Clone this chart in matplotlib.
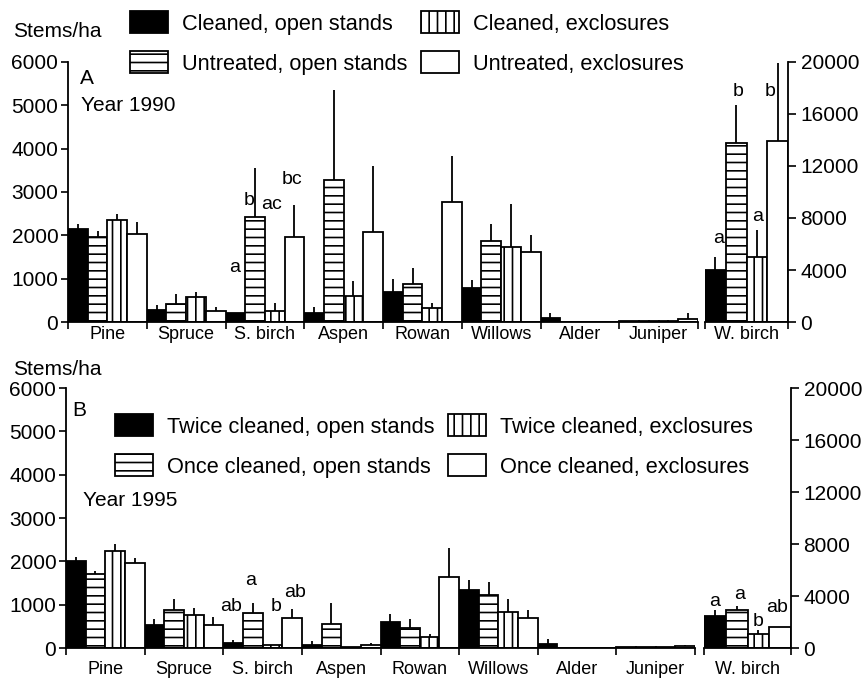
import numpy as np
import matplotlib
matplotlib.use("Agg")
import matplotlib.pyplot as plt
from matplotlib.patches import Patch

plt.rcParams['font.family'] = ['Liberation Sans', 'DejaVu Sans']
plt.rcParams['hatch.linewidth'] = 1.2
plt.rcParams['axes.linewidth'] = 1.3

species = ["Pine", "Spruce", "S. birch", "Aspen", "Rowan", "Willows", "Alder", "Juniper"]
wb_name = "W. birch"

# Panel A, 1990 (stems/ha); errors = upper error bar length
cleaned_open_90 = [2150, 270, 200, 210, 700, 780, 100, 25]
cleaned_open_90_err = [100, 130, 0, 140, 300, 200, 100, 0]
untreated_open_90 = [1950, 420, 2420, 3280, 870, 1870, 10, 30]
untreated_open_90_err = [150, 230, 1130, 2070, 380, 380, 0, 10]
cleaned_excl_90 = [2350, 570, 250, 600, 320, 1720, 5, 30]
cleaned_excl_90_err = [150, 130, 180, 350, 130, 1010, 0, 10]
untreated_excl_90 = [2030, 250, 1950, 2080, 2780, 1620, 5, 80]
untreated_excl_90_err = [270, 100, 750, 1520, 1040, 380, 0, 130]
wbirch_90 = [4000, 13800, 5000, 13900]
wbirch_90_err = [1000, 2900, 2100, 6000]

# Panel B, 1995
twice_open_95 = [2000, 520, 110, 80, 600, 1330, 100, 20]
twice_open_95_err = [100, 150, 80, 80, 190, 240, 100, 0]
once_open_95 = [1700, 880, 800, 560, 460, 1220, 0, 20]
once_open_95_err = [80, 250, 250, 470, 210, 300, 0, 0]
twice_excl_95 = [2250, 760, 60, 20, 250, 820, 0, 15]
twice_excl_95_err = [150, 170, 0, 0, 70, 310, 0, 0]
once_excl_95 = [1960, 540, 690, 80, 1650, 700, 0, 40]
once_excl_95_err = [120, 180, 210, 40, 650, 180, 0, 40]
wbirch_95 = [2500, 2900, 1100, 1600]
wbirch_95_err = [400, 300, 280, 0]

legend_90 = ["Cleaned, open stands", "Untreated, open stands",
             "Cleaned, exclosures", "Untreated, exclosures"]
legend_95 = ["Twice cleaned, open stands", "Once cleaned, open stands",
             "Twice cleaned, exclosures", "Once cleaned, exclosures"]

# significance letters: (text, x, y) in data coords
letters_90 = [("a", 2.12, 1250), ("b", 2.30, 2800), ("ac", 2.59, 2700), ("bc", 2.84, 3280)]
wb_letters_90 = [("a", 0.16, 6400), ("b", 0.40, 17700), ("a", 0.63, 8150), ("b", 0.78, 17700)]
letters_95 = [("ab", 2.10, 950), ("a", 2.35, 1550), ("b", 2.67, 950), ("ab", 2.91, 1270)]
wb_letters_95 = [("a", 0.12, 3550), ("a", 0.41, 4080), ("b", 0.62, 2000), ("ab", 0.84, 3080)]

styles = [dict(facecolor='black', edgecolor='black'),
          dict(facecolor='white', edgecolor='black', hatch='--'),
          dict(facecolor='white', edgecolor='black', hatch='||'),
          dict(facecolor='white', edgecolor='black')]

W, H = 863, 679
fig = plt.figure(figsize=(W / 100, H / 100), dpi=100)


def box(x0, x1, ybot, ytop):
    return [x0 / W, 1 - ybot / H, (x1 - x0) / W, (ybot - ytop) / H]


def draw_panel(main_box, side_box, vals, errs, wb_vals, wb_errs, letters, wb_letters, lab_pad):
    ax = fig.add_axes(main_box)
    ax2 = fig.add_axes(side_box)
    x = np.arange(len(species))
    w = 0.25
    for k in range(4):
        pos = x + w * (k + 0.5)
        ax.bar(pos, vals[k], w, linewidth=1.3, **styles[k])
        ax.errorbar(pos, vals[k], yerr=[np.zeros(len(species)), errs[k]],
                    fmt='none', ecolor='black', elinewidth=1.3, capsize=0)
        ax2.bar(w * (k + 0.5), wb_vals[k], w, linewidth=1.3, **styles[k])
        ax2.errorbar(w * (k + 0.5), wb_vals[k], yerr=[[0], [wb_errs[k]]],
                     fmt='none', ecolor='black', elinewidth=1.3, capsize=0)
    ax.set_xlim(0, len(species))
    ax.set_ylim(0, 6000)
    ax2.set_xlim(0, 1)
    ax2.set_ylim(0, 20000)

    ax.spines['top'].set_visible(False)
    ax.spines['right'].set_visible(False)
    ax2.spines['top'].set_visible(False)
    ax2.spines['left'].set_visible(False)

    ax.set_yticks(np.arange(0, 6001, 1000))
    ax.tick_params(axis='y', direction='out', length=5, width=1.2, labelsize=15, pad=2)
    ax.set_xticks(np.arange(len(species) + 1))
    ax.set_xticklabels([])
    ax.set_xticks(x + 0.5, minor=True)
    ax.set_xticklabels(species, minor=True)
    ax.tick_params(axis='x', which='major', direction='out', length=5, width=1.2)
    ax.tick_params(axis='x', which='minor', length=0, pad=lab_pad, labelsize=13)

    ax2.yaxis.tick_right()
    ax2.set_yticks(np.arange(0, 20001, 4000))
    ax2.tick_params(axis='y', direction='out', length=6, width=1.2, labelsize=15, pad=3)
    ax2.set_xticks([0, 1])
    ax2.set_xticklabels([])
    ax2.set_xticks([0.5], minor=True)
    ax2.set_xticklabels([wb_name], minor=True)
    ax2.tick_params(axis='x', which='major', direction='out', length=5, width=1.2)
    ax2.tick_params(axis='x', which='minor', length=0, pad=lab_pad, labelsize=13)

    for t, lx, ly in letters:
        ax.text(lx, ly, t, fontsize=14, ha='center', va='center')
    for t, lx, ly in wb_letters:
        ax2.text(lx, ly, t, fontsize=14, ha='center', va='center')
    return ax, ax2


draw_panel(box(68, 698, 322, 62), box(705, 788, 322, 62),
           [cleaned_open_90, untreated_open_90, cleaned_excl_90, untreated_excl_90],
           [cleaned_open_90_err, untreated_open_90_err, cleaned_excl_90_err, untreated_excl_90_err],
           wbirch_90, wbirch_90_err, letters_90, wb_letters_90, 3)

draw_panel(box(66, 695, 648, 388), box(704, 791, 648, 388),
           [twice_open_95, once_open_95, twice_excl_95, once_excl_95],
           [twice_open_95_err, once_open_95_err, twice_excl_95_err, once_excl_95_err],
           wbirch_95, wbirch_95_err, letters_95, wb_letters_95, 9)

handles = [Patch(linewidth=1.3, **s) for s in styles]
leg_kw = dict(ncol=2, loc='upper left', frameon=False, fontsize=15.7, borderpad=0,
              borderaxespad=0, handlelength=1.72, handleheight=1.2,
              handletextpad=0.65, columnspacing=0.65, labelspacing=0.76)
fig.legend(handles, legend_90, bbox_to_anchor=(130 / W, 1 - 11 / H), **leg_kw)
fig.legend(handles, legend_95, bbox_to_anchor=(115 / W, 1 - 414 / H), **leg_kw)

fig.text(13 / W, 1 - 22 / H, "Stems/ha", fontsize=15, va='top')
fig.text(13 / W, 1 - 360 / H, "Stems/ha", fontsize=15, va='top')
fig.text(80 / W, 1 - 69 / H, "A", fontsize=15, va='top')
fig.text(81 / W, 1 - 96 / H, "Year 1990", fontsize=15, va='top')
fig.text(72 / W, 1 - 401 / H, "B", fontsize=15, va='top')
fig.text(83 / W, 1 - 491 / H, "Year 1995", fontsize=15, va='top')

fig.savefig("out.png", dpi=100)
